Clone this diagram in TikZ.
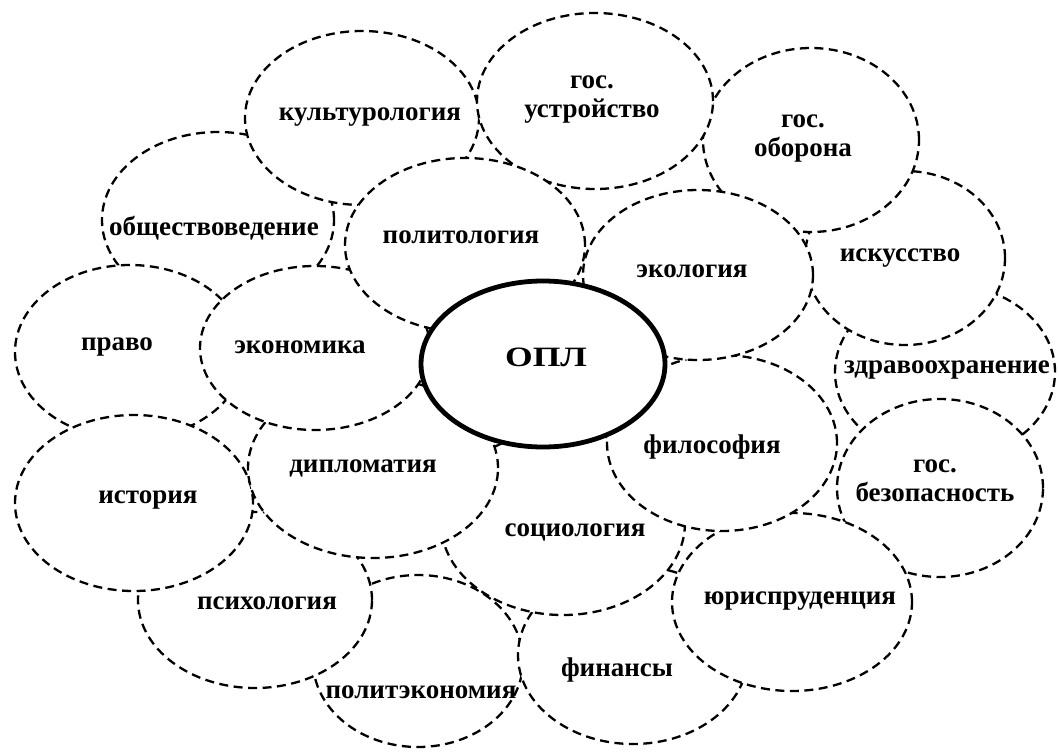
\documentclass[tikz,border=0pt]{standalone}
\usepackage{fontspec}
\setmainfont{Liberation Serif}
\usetikzlibrary{shapes.geometric}
\tikzset{
  bub/.style={draw=black, fill=white, ellipse, inner sep=0pt, line width=2.3pt,
              dash pattern=on 9pt off 5.5pt},
  core/.style={draw=black, fill=white, ellipse, inner sep=0pt, line width=4.8pt},
  lbl/.style={font=\fontsize{27}{24}\selectfont\bfseries, inner sep=0pt, align=center},
  two/.style={font=\fontsize{27}{29}\selectfont\bfseries, inner sep=0pt, align=center},
  big/.style={font=\fontsize{28}{28}\selectfont\bfseries, inner sep=0pt}
}
\newcommand{\bubble}[5]{\node[bub, minimum width=#4pt, minimum height=#5pt] (#1) at (#2,#3) {};}
\begin{document}
\begin{tikzpicture}[x=1pt,y=-1pt]
\useasboundingbox (0,0) rectangle (1059,752);
% back to front
\bubble{obsh}{218}{220}{232}{176}
\bubble{pravo}{130}{352}{230}{174}
\bubble{kult}{362}{118}{234}{174}
\bubble{zdrav}{945}{372}{220}{176}
\bubble{isk}{905}{258}{200}{174}
\bubble{obor}{811}{140}{216}{184}
\bubble{ustr}{595}{101}{236}{176}
\bubble{bez}{940}{488}{206}{178}
\bubble{polek}{418}{661}{210}{172}
\bubble{psih}{255}{600}{234}{176}
\bubble{ist}{134}{503}{238}{176}
\bubble{fin}{633}{655}{230}{178}
\bubble{yur}{792}{602}{240}{178}
\bubble{soc}{563}{523}{244}{184}
\bubble{dipl}{373}{468}{250}{180}
\bubble{fil}{722}{443}{230}{176}
\bubble{ekol}{698}{275}{230}{170}
\bubble{ekon}{315}{348}{230}{164}
\bubble{polit}{465}{245}{240}{174}
\node[core, minimum width=244pt, minimum height=166pt] (opl) at (543,364) {};
% labels
\node[lbl] (tobsh) at (214,228) {обществоведение};
\node[lbl] (tpravo) at (117,347) {право};
\node[lbl] (tkult) at (370,117) {культурология};
\node[two] (tobor) at (803,139) {гос.\\оборона};
\node[two] (tustr) at (592,100) {гос.\\устройство};
\node[lbl] (tisk) at (900,258) {искусство};
\node[lbl] (tzdrav) at (947,370) {здравоохранение};
\node[two] (tbez) at (935,481) {гос.\\безопасность};
\node[lbl] (tist) at (148,500) {история};
\node[lbl] (tpsih) at (267,603) {психология};
\node[lbl] (tpolek) at (421,692) {политэкономия};
\node[lbl] (tfin) at (617,670) {финансы};
\node[lbl] (tyur) at (800,601) {юриспруденция};
\node[lbl] (tsoc) at (575,532) {социология};
\node[lbl] (tdipl) at (363,468) {дипломатия};
\node[lbl] (tfil) at (712,447) {философия};
\node[lbl] (tekol) at (692,271) {экология};
\node[lbl] (tekon) at (300,347) {экономика};
\node[lbl] (tpolit) at (461,237) {политология};
\node[big] (topl) at (546,357) {\scalebox{1.27}[1]{ОПЛ}};
\end{tikzpicture}
\end{document}
